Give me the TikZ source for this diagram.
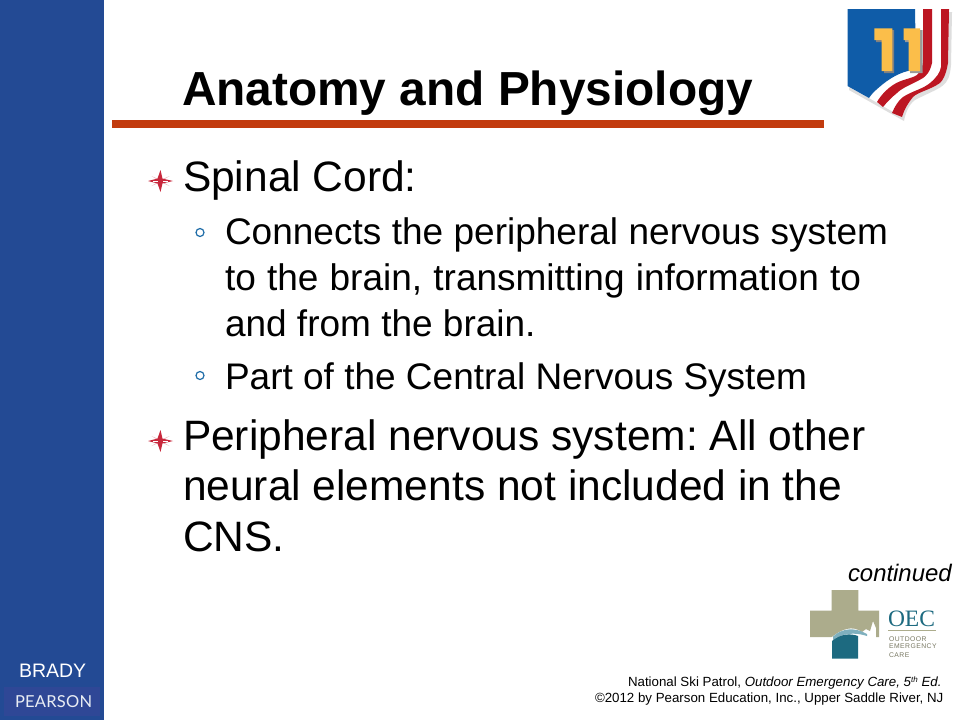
\documentclass[tikz,border=0pt]{standalone}
\usepackage{fontspec}
\setmainfont{Liberation Sans}
\frenchspacing
\newfontfamily\pearsonfont[LetterSpace=1.5]{Lato}
\newfontfamily\oecserif{Liberation Serif}
\newfontfamily\oecsmall[LetterSpace=7]{Liberation Sans}
\definecolor{sidebar}{HTML}{234A94}
\definecolor{pearsonbar}{HTML}{2F4796}
\definecolor{rulered}{HTML}{C23B0E}
\definecolor{bulletred}{HTML}{C8283C}
\definecolor{ringblue}{HTML}{1F6DA8}
\definecolor{shieldblue}{HTML}{0F5CA8}
\definecolor{stripered}{HTML}{BC1622}
\definecolor{gold}{HTML}{FBBE4A}
\definecolor{oecgreen}{HTML}{ACAC8C}
\definecolor{oecteal}{HTML}{1D6A80}
\definecolor{oeclight}{HTML}{7FB0BE}
\tikzset{
  x=1pt,y=-1pt,
  txt/.style={anchor=base west,inner sep=0pt,outer sep=0pt,text=black},
  lone/.style={txt,font=\fontsize{42.5}{42.5}\selectfont},
  ltwo/.style={txt,font=\fontsize{37}{37}\selectfont},
  star/.pic={
    \fill[bulletred!35] (-9,-5) -- (0,-1) -- (9,-5) -- (1,0) -- (9,5) -- (0,1) -- (-9,5) -- (-1,0) -- cycle;
    \fill[bulletred] (-12.5,0) -- (-3,-2.4) -- (0,-11) -- (2,-2.4) -- (12.5,0) -- (2,2.4) -- (0,11) -- (-3,2.4) -- cycle;
    \fill[white] (-8,-.5) rectangle (-3,.5);
    \fill[white] (2,-.5) rectangle (7,.5);
  },
  ring/.style={draw=ringblue,line width=1.2pt,circle,minimum size=8pt,inner sep=0pt}
}
\begin{document}
\begin{tikzpicture}
\useasboundingbox (0,0) rectangle (960,720);
\fill[white] (0,0) rectangle (960,720);
\fill[sidebar] (0,0) rectangle (104,720);
\fill[pearsonbar] (4,687) rectangle (100,716);
\node[txt,text=white,font=\fontsize{19.5}{19.5}\selectfont] (brady) at (19,677) {BRADY};
\node[txt,text=white!90!sidebar,font=\fontsize{16.5}{16.5}\pearsonfont] (pearson) at (15,707) {PEARSON};
% title
\node[txt,font=\fontsize{47.8}{47.8}\selectfont\bfseries] (title) at (182,105) {Anatomy and Physiology};
\fill[rulered] (112,120) rectangle (824,128);
% bullets
\pic at (160.5,181) {star};
\pic at (160.5,441) {star};
\node[ring] (r1) at (200,232.5) {};
\node[ring] (r2) at (200,375.5) {};
% body
\node[lone] (a) at (183,191) {Spinal Cord:};
\node[ltwo] (b1) at (225,244) {\makebox[663pt][s]{Connects the peripheral nervous system}};
\node[ltwo] (b2) at (225,290) {\makebox[636pt][s]{to the brain, transmitting information to}};
\node[ltwo] (b3) at (225,336) {and from the brain.};
\node[ltwo] (b4) at (225,389) {Part of the Central Nervous System};
\node[lone] (c1) at (183,450) {Peripheral nervous system: All other};
\node[lone] (c2) at (183,500) {neural elements not included in the};
\node[lone] (c3) at (183,551) {CNS.};
% continued
\node[txt,font=\fontsize{23.9}{23.9}\selectfont\itshape] (cont) at (848,581) {continued};
% credit
\node[txt,font=\fontsize{13.3}{13.3}\selectfont] (cr1) at (628,686) {National Ski Patrol, \textit{Outdoor Emergency Care, 5}\raisebox{4pt}{\fontsize{8}{8}\selectfont\textit{th}}\textit{ Ed.}};
\node[txt,font=\fontsize{13.3}{13.3}\selectfont] (cr2) at (595,702) {©2012 by Pearson Education, Inc., Upper Saddle River, NJ};
% shield logo
\fill[black!13] (850,12) -- (952,12) -- (951,65) .. controls (949,88) and (942,86) .. (915,100) .. controls (908,105) and (905,115) .. (904,121) -- (849,90) -- cycle;
\fill[white] (847.5,9) -- (949,9) -- (948,63) .. controls (946,75) and (943,80) .. (940,83) .. controls (930,90) and (918,92) .. (913,97) .. controls (908,103) and (904,110) .. (902,117) -- (869,98) -- (847.5,86) -- cycle;
\fill[shieldblue] (847.5,9) -- (915,9) -- (916,70) .. controls (905,70) and (893,76) .. (883,84) .. controls (877,89) and (872,93) .. (869,98) -- (847.5,86) -- cycle;
\fill[stripered] (923,9) -- (932,9) -- (932,63) .. controls (930,72) and (926,76) .. (923,78) .. controls (913,84) and (903,87) .. (897,93) .. controls (892,97) and (887,102) .. (883,107) -- (877,102) .. controls (881,95) and (887,89) .. (893,85) .. controls (902,79) and (911,79) .. (917,75) .. controls (921,71) and (923,66) .. (923,60) -- cycle;
\fill[stripered] (941,9) -- (949,9) -- (948,63) .. controls (946,75) and (943,80) .. (940,83) .. controls (930,90) and (918,92) .. (913,97) .. controls (908,103) and (904,110) .. (902,117) -- (892,113) .. controls (895,106) and (898,101) .. (903,97) .. controls (912,91) and (923,89) .. (930,83) .. controls (936,78) and (940,73) .. (941,67) -- cycle;
\fill[black!50] (876,30) -- (894,30) -- (894,73) -- (884,73) -- (884,42) -- (876,42) -- cycle;
\fill[black!40] (905,30) -- (922.5,30) -- (922.5,73) -- (910,73) -- (910,42) -- (905,42) -- cycle;
\fill[gold] (874.3,28.3) -- (892.3,28.3) -- (892.3,71) -- (881.7,71) -- (881.7,40) -- (874.3,40) -- cycle;
\fill[gold] (903.5,28.3) -- (920,28.3) -- (920,71) -- (908.5,71) -- (908.5,40) -- (903.5,40) -- cycle;
% OEC logo
\fill[oecgreen] (831.7,590) -- (858.3,590) -- (858.3,610.7) -- (879,610.7) -- (879,637) -- (876,637) -- (876,628) -- (873,621) -- (870,631) -- (866,629) -- (862,632) .. controls (852,625) and (842,629) .. (831.7,637) -- (810,637) -- (810,610.7) -- (831.7,610.7) -- cycle;
\fill[oeclight] (833,636.5) .. controls (842,628) and (855,627) .. (867,634) -- (867,636) .. controls (855,632) and (842,633) .. (833,640) -- cycle;
\fill[oecteal] (832,641) .. controls (840,634) and (850,633) .. (858,636) -- (858,658.5) -- (832,658.5) -- cycle;
\node[txt,text=oecteal,font=\fontsize{23.5}{23.5}\oecserif] (oec) at (888,626) {OEC};
\fill[oecgreen] (888,629.7) rectangle (936,630.4);
\node[txt,text=oecgreen!70!black,font=\fontsize{6.8}{6.8}\oecsmall] (l1) at (889,641) {OUTDOOR};
\node[txt,text=oecgreen!70!black,font=\fontsize{6.8}{6.8}\oecsmall] (l2) at (889,648.7) {EMERGENCY};
\node[txt,text=oecgreen!70!black,font=\fontsize{6.8}{6.8}\oecsmall] (l3) at (889,657) {CARE};
\end{tikzpicture}
\end{document}
